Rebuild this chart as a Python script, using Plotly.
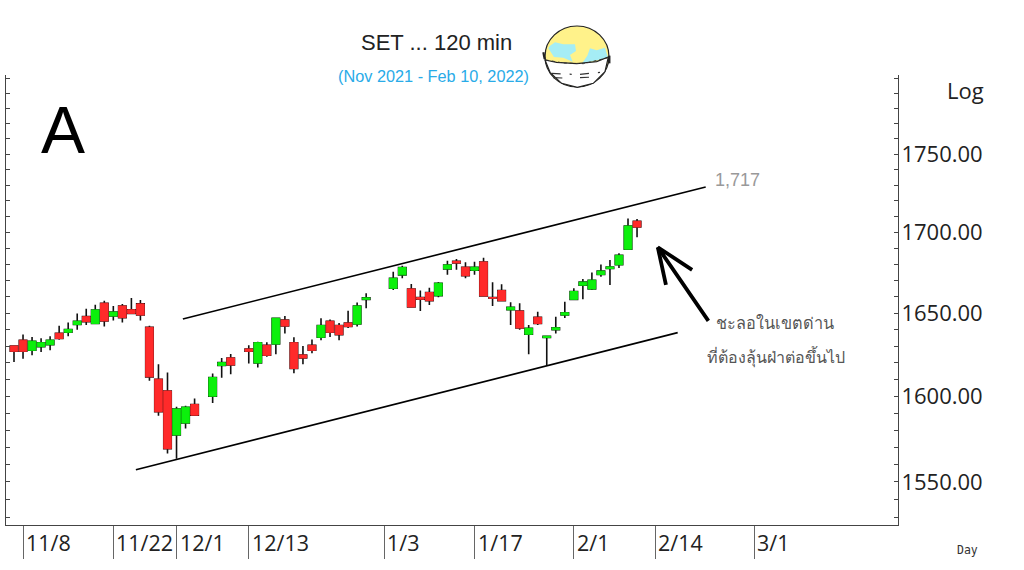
import math
import plotly.graph_objects as go

WIDTH, HEIGHT = 1024, 570
LEFT, RIGHT, TOP, BOTTOM = 6, 898, 75, 525

# bar number, counted in trading days from the first candle
bar_idx = list(range(0, 21)) + [22, 23, 24] + list(range(26, 40)) + list(range(42, 70))
opens = [1630, 1633.5, 1627.4, 1629.6, 1630.8, 1637.7, 1638.3, 1643, 1647.8, 1643.6, 1656, 1648.2, 1654.3, 1652, 1655.6,
         1641.3, 1610.1, 1603.1, 1577.2, 1584.2, 1595.1,
         1600, 1618.3, 1622.8,
         1628.2, 1619.8, 1630.4, 1631.2, 1645.7, 1632, 1624.6, 1630.4, 1635.3, 1645, 1642.4, 1643.9, 1643.3, 1658.4,
         1665.2, 1673.5, 1664.8, 1659.5, 1662.6, 1660.7, 1677.2, 1681.9, 1678.2, 1676.4, 1681.5, 1659.5, 1663.8, 1652,
         1651.2, 1637.1, 1647.4, 1635.1, 1639.9, 1648.8, 1658.4, 1667.1, 1664.8, 1673.7, 1677.4, 1679.8, 1689.5, 1707]
closes = [1626.8, 1626.8, 1632.9, 1632, 1633.5, 1634.5, 1640, 1645, 1644.8, 1651.9, 1645.2, 1650.6, 1647.2, 1649.8, 1648.8,
          1611.5, 1590.8, 1569.2, 1592.4, 1593.5, 1588.8,
          1611.1, 1620, 1618.6,
          1626.8, 1632, 1624.4, 1646.8, 1642.1, 1616.5, 1622.8, 1627.4, 1642.4, 1638.3, 1636.9, 1641.8, 1654.3, 1659.3,
          1671.4, 1678, 1653.7, 1658.5, 1657.6, 1668.3, 1679.6, 1680.9, 1673, 1678.2, 1660.5, 1659.2, 1657.6, 1653.5,
          1640.9, 1640.7, 1643.6, 1635.9, 1641, 1650.2, 1663.2, 1669, 1670.2, 1675.8, 1678.4, 1685.6, 1704, 1703.4]
highs = [1630.4, 1636.9, 1635.5, 1634.7, 1635.9, 1642.3, 1644.2, 1649.8, 1652.6, 1655.1, 1657.6, 1654.3, 1655.6, 1659.3, 1658,
         1642.3, 1619, 1614.1, 1593.7, 1594.3, 1598.6,
         1613.5, 1622.8, 1625.2,
         1630.4, 1632.6, 1632.3, 1647, 1648.2, 1635.3, 1630, 1633.9, 1646.8, 1646, 1643.9, 1651.4, 1656.4, 1662.2,
         1675.5, 1679.2, 1667.9, 1663.8, 1665.6, 1669.1, 1682.3, 1683.3, 1681.3, 1681.7, 1684.1, 1669, 1667.7, 1656.6,
         1656, 1642.7, 1650.8, 1636.4, 1647.8, 1656.9, 1665.3, 1670.9, 1674.9, 1680, 1682.7, 1686.9, 1708.7, 1708.5]
lows = [1620.4, 1622.4, 1624.4, 1626.4, 1627.4, 1633.8, 1635.9, 1639.9, 1642.7, 1643.4, 1641.8, 1645.4, 1644.2, 1649.8, 1645.4,
        1609.1, 1588.5, 1566.4, 1563.4, 1581, 1588.8,
        1595.9, 1610.9, 1613.1,
        1619.5, 1617.1, 1623.6, 1625, 1637.5, 1613.7, 1619, 1625.6, 1633.5, 1635.5, 1633.5, 1640.9, 1641.8, 1652.9,
        1664.2, 1671.4, 1653.4, 1651.2, 1655, 1659.7, 1673.5, 1676.6, 1671.4, 1673.5, 1660.5, 1654.3, 1657, 1642.7,
        1639.9, 1625, 1642.7, 1618.5, 1637.5, 1647, 1658.4, 1658.4, 1664.2, 1672.4, 1667.3, 1677.8, 1689.1, 1697]

date_idx = [1, 11, 18, 26, 41, 51, 62, 71, 82]
date_labels = ["11/8", "11/22", "12/1", "12/13", "1/3", "1/17", "2/1", "2/14", "3/1"]

price_ticks = list(range(1530, 1810, 10))
price_labels = ["1550.00", "1600.00", "1650.00", "1700.00", "1750.00"]

upper_x, upper_y = [18.7, 76.6], [1646.4, 1728.8]
lower_x, lower_y = [13.5, 73.5], [1557, 1638.1]
arrow_x = [76.9, 71.3, 75.1, None, 71.3, 72.2]
arrow_y = [1645.2, 1690.7, 1676.6, None, 1690.7, 1667.3]

GREEN = "#0CF00C"
RED = "#FF2A2A"


def px(x):
    return (x - LEFT) / (RIGHT - LEFT)


def py(y):
    return (BOTTOM - y) / (BOTTOM - TOP)


def icon_path(points, close=True):
    # points are picked off the zoomed crop of the logo
    cmds = []
    for i, (zx, zy) in enumerate(points):
        cmds.append(f"{'M' if i == 0 else 'L'} {px(330 + zx / 3):.4f} {py(15 + zy / 3):.4f}")
    return " ".join(cmds) + (" Z" if close else "")


def icon_shape(points, close=True, **style):
    return dict(type="path", xref="paper", yref="paper", path=icon_path(points, close), **style)


fig = go.Figure()

# wicks first, then the bodies on top so they don't get a black outline
fig.add_trace(go.Candlestick(
    x=bar_idx, open=opens, high=highs, low=lows, close=closes, whiskerwidth=0,
    increasing=dict(line=dict(color="#111111", width=1.6), fillcolor=GREEN),
    decreasing=dict(line=dict(color="#111111", width=1.6), fillcolor=RED),
    hoverinfo="skip",
))
fig.add_trace(go.Candlestick(
    x=bar_idx, open=opens, close=closes,
    high=[max(o, c) for o, c in zip(opens, closes)],
    low=[min(o, c) for o, c in zip(opens, closes)],
    whiskerwidth=0,
    increasing=dict(line=dict(color=GREEN, width=1), fillcolor=GREEN),
    decreasing=dict(line=dict(color=RED, width=1), fillcolor=RED),
    hoverinfo="skip",
))
for xs, ys, w in [(upper_x, upper_y, 1.6), (lower_x, lower_y, 1.6), (arrow_x, arrow_y, 3.8)]:
    fig.add_trace(go.Scatter(x=xs, y=ys, mode="lines", line=dict(color="black", width=w), hoverinfo="skip"))

CYAN = dict(fillcolor="#A5EDF5", line=dict(width=0))
DASH = dict(line=dict(color="#333333", width=1.2, dash="dash"))
shapes = [
    dict(type="circle", xref="paper", yref="paper", x0=px(545), x1=px(609), y0=py(87), y1=py(26),
         fillcolor="#FFF28A", line=dict(color="#222222", width=1.2)),
    icon_shape([(660, 92), (675, 82), (700, 88), (735, 88), (738, 108), (720, 120), (728, 140), (700, 128), (672, 126), (655, 100)], **CYAN),
    icon_shape([(780, 100), (800, 106), (825, 98), (834, 128), (790, 138), (755, 146), (772, 122)], **CYAN),
    icon_shape([(645, 135), (680, 142), (740, 146), (800, 140), (835, 126), (825, 170), (790, 205),
                (742, 217), (695, 205), (660, 172)], fillcolor="white", line=dict(color="#222222", width=1.2)),
    icon_shape([(648, 135), (700, 144), (760, 146), (835, 128)], close=False, line=dict(color="#333333", width=1, dash="dot")),
    icon_shape([(640, 112), (644, 132)], close=False, line=dict(color="#222222", width=2.2)),
    icon_shape([(838, 122), (838, 145)], close=False, line=dict(color="#222222", width=2.2)),
    icon_shape([(665, 175), (725, 178)], close=False, **DASH),
    icon_shape([(750, 178), (810, 172)], close=False, **DASH),
    icon_shape([(670, 188), (720, 190)], close=False, **DASH),
    icon_shape([(750, 188), (795, 186)], close=False, **DASH),
]

annotations = [
    dict(text="SET ... 120 min", x=px(436), y=py(42), font=dict(family="Liberation Sans", size=22, color="#222222")),
    dict(text="(Nov 2021 - Feb 10, 2022)", x=px(433.5), y=py(76), font=dict(family="Liberation Sans", size=16.3, color="#29ABE8")),
    dict(text="A", x=px(63), y=py(130), font=dict(family="Liberation Sans", size=66, color="black")),
    dict(text="Log", x=px(965.5), y=py(90), font=dict(family="Open Sans", size=22, color="#222222")),
    dict(text="1,717", x=px(737), y=py(180), font=dict(family="Liberation Sans", size=18, color="#999999")),
    dict(text="ชะลอในเขตด่าน", x=px(774.5), y=py(323), font=dict(family="Noto Sans, DejaVu Sans, sans-serif", size=16.3, color="#555555")),
    dict(text="ที่ต้องลุ้นฝ่าต่อขึ้นไป", x=px(776), y=py(357), font=dict(family="Noto Sans, DejaVu Sans, sans-serif", size=16, color="#555555")),
    dict(text="Day", x=px(967), y=py(550), font=dict(family="DejaVu Sans Mono", size=11.5, color="#333333")),
]
for a in annotations:
    a.update(xref="paper", yref="paper", showarrow=False, xanchor="center", yanchor="middle")

# date labels sit to the right of their long tick marks
for i, label in zip(date_idx, date_labels):
    annotations.append(dict(text=label, x=i, xref="x", y=0, yref="paper", xanchor="left", yanchor="top",
                            xshift=1, yshift=-1, showarrow=False,
                            font=dict(family="Open Sans", size=21.5, color="#222222")))

fig.update_layout(
    width=WIDTH, height=HEIGHT,
    margin=dict(l=LEFT, r=WIDTH - RIGHT, t=TOP, b=HEIGHT - BOTTOM, pad=0),
    paper_bgcolor="white", plot_bgcolor="white",
    showlegend=False, boxmode="overlay", boxgap=0.14, boxgroupgap=0.03,
    shapes=shapes, annotations=annotations,
    xaxis=dict(
        range=[-0.886, 97.9], rangeslider=dict(visible=False), showgrid=False, zeroline=False,
        tickmode="array", tickvals=date_idx, ticktext=[""] * len(date_idx),
        ticks="outside", ticklen=33, tickwidth=1, tickcolor="#666666",
        showline=True, linecolor="#444444", linewidth=1,
    ),
    yaxis=dict(
        type="log", side="right", range=[math.log10(1525.5), math.log10(1802)],
        showgrid=False, zeroline=False,
        tickmode="array", tickvals=price_ticks,
        ticktext=[f"{v}.00" if f"{v}.00" in price_labels else "" for v in price_ticks],
        ticks="inside", ticklen=4, tickwidth=1, tickcolor="#444444", ticklabelstandoff=-2,
        tickfont=dict(family="Open Sans", size=22, color="#222222"),
        showline=True, linecolor="#444444", linewidth=1, mirror="ticks",
    ),
)

# the browser's default body margin would push everything 8px in
fig.write_html("out.html", config=dict(displayModeBar=False),
               post_script="document.body.style.margin = '0';")
